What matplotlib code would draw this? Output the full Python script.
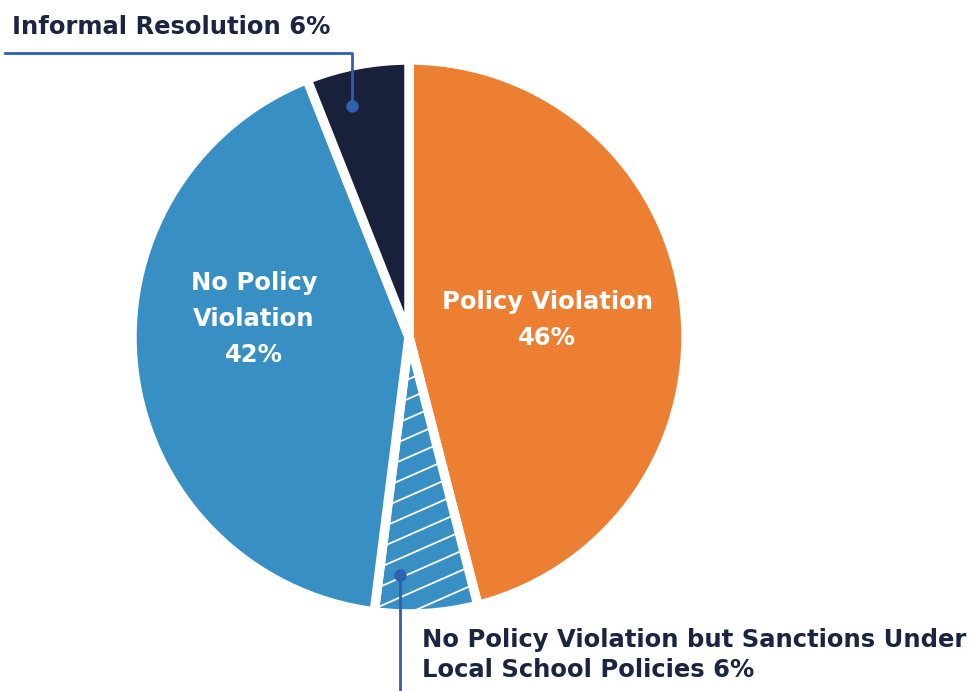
import matplotlib
matplotlib.use('Agg')
import matplotlib.pyplot as plt
import numpy as np

# Data
labels = ['Policy Violation', 'No Policy Violation but Sanctions Under\nLocal School Policies',
          'No Policy\nViolation', 'Informal Resolution']
values = [46, 6, 42, 6]
colors = ['#ED7F32', '#388FC3', '#388FC3', '#19213A']

DARK = '#1B2440'
LEAD = '#2F5FB0'
W, H = 973, 691
cx, cy, r = 409, H - 337, 277

fig = plt.figure(figsize=(W / 100, H / 100), dpi=100)
ax = fig.add_axes([0, 0, 1, 1])

wedges, _ = ax.pie(values, colors=colors, startangle=90, counterclock=False,
                   center=(cx, cy), radius=r, frame=True,
                   wedgeprops=dict(edgecolor='white', linewidth=6.8))
ax.set_xlim(0, W)
ax.set_ylim(0, H)
ax.set_aspect('equal')
ax.axis('off')

# custom shallow hatch on the sanctions slice
hw = wedges[1]
xs = np.array([cx - r, cx + r])
for c in np.arange(-900, 900, 19.5):
    ln, = ax.plot(xs, cy + 0.44 * (xs - cx) + c, color='white', lw=1.3, zorder=3)
    ln.set_clip_path(hw)

# inner labels
fs = 17.5
inner = {0: (547, H - 320), 2: (254, H - 319)}
for i, (x, y) in inner.items():
    ax.text(x, y, f'{labels[i]}\n{values[i]}%', ha='center', va='center',
            color='white', fontsize=fs, fontweight='bold', linespacing=1.62)

# leader: informal resolution
ax.plot([352, 352, 5], [H - 106, H - 53, H - 53], color=LEAD, lw=2, zorder=4)
ax.plot(352, H - 106, 'o', color=LEAD, ms=8, zorder=5)
ax.text(12, H - 27, f'{labels[3]} {values[3]}%', ha='left', va='center',
        color=DARK, fontsize=fs, fontweight='bold')

# leader: sanctions
ax.plot([400, 400], [H - 575, 0], color=LEAD, lw=2, zorder=4)
ax.plot(400, H - 575, 'o', color=LEAD, ms=8, zorder=5)
ax.text(422, H - 655, f'{labels[1]} {values[1]}%', ha='left', va='center',
        color=DARK, fontsize=fs, fontweight='bold', linespacing=1.3)

fig.savefig('out.png', dpi=100)
